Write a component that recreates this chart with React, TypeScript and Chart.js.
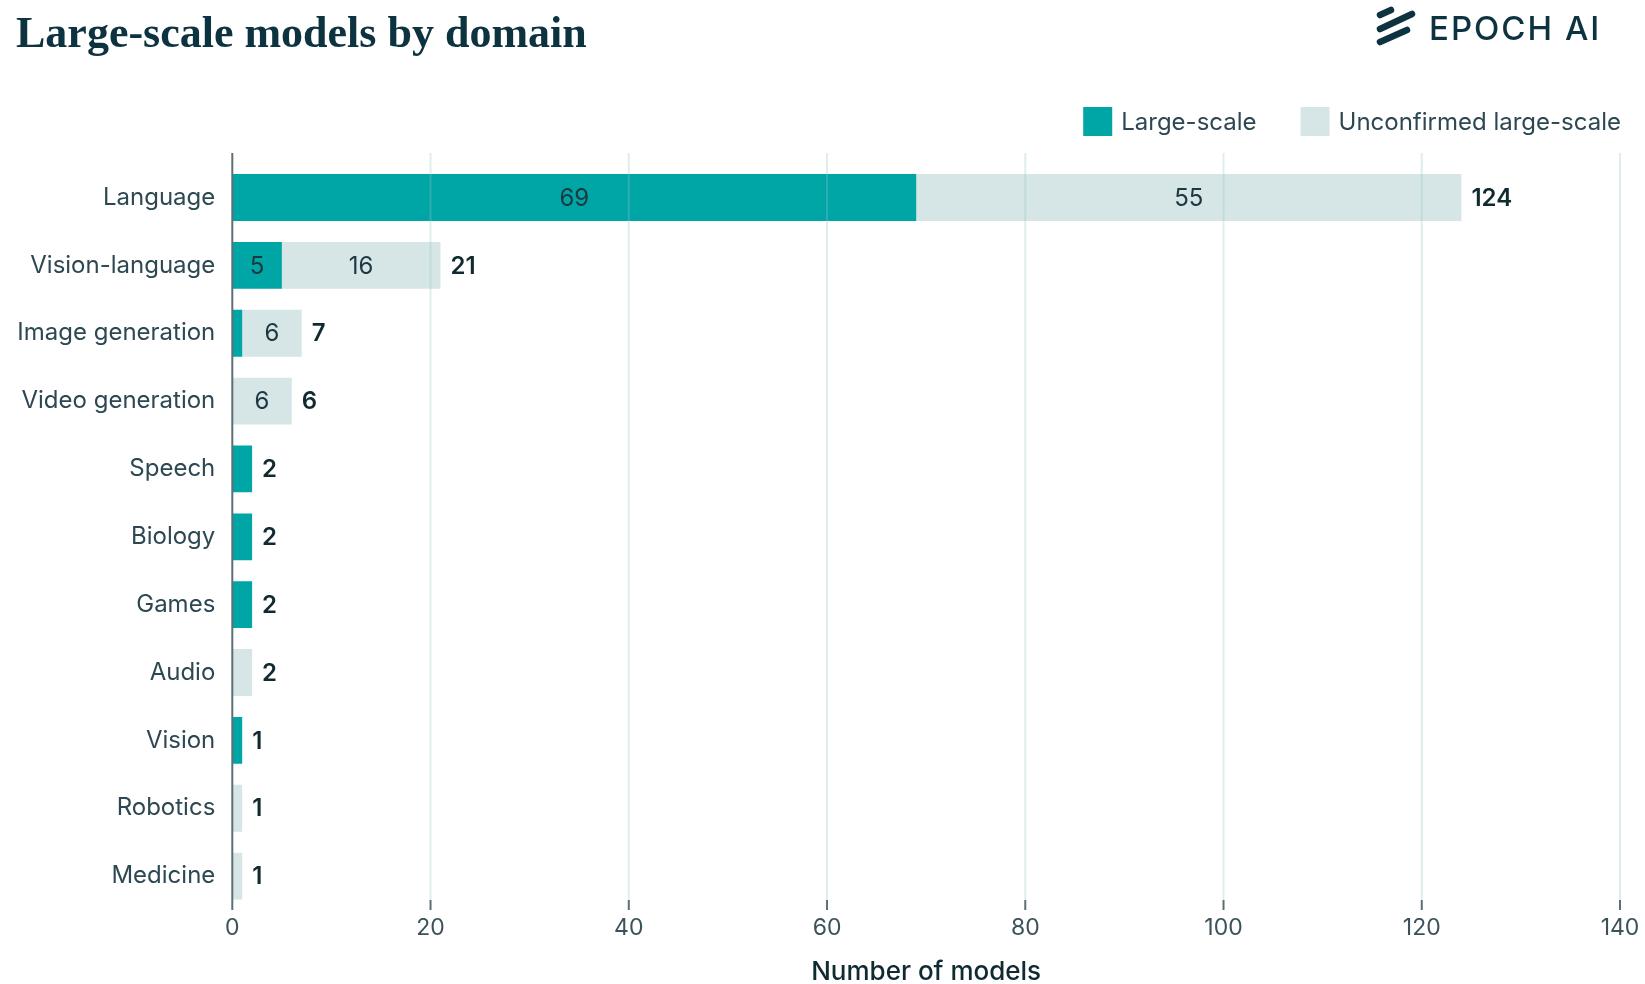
import React, { useEffect, useRef } from 'react';
import { Chart, registerables } from 'chart.js';

Chart.register(...registerables);

const categories = [
  'Language',
  'Vision-language',
  'Image generation',
  'Video generation',
  'Speech',
  'Biology',
  'Games',
  'Audio',
  'Vision',
  'Robotics',
  'Medicine',
];
const largeScale = [69, 5, 1, 0, 2, 2, 2, 0, 1, 0, 0];
const unconfirmed = [55, 16, 6, 6, 0, 0, 0, 2, 0, 1, 1];
const seriesNames = ['Large-scale', 'Unconfirmed large-scale'];
const xTickValues = [0, 20, 40, 60, 80, 100, 120, 140];

const TEAL = '#00a5a6';
const LIGHT = '#d6e5e5';
const DARK = '#0d3340';
const LABEL = '#2d4852';
const AXIS = '#5d6f75';
const FONT = 'Inter, "Noto Sans", sans-serif';

const gridAxisPlugin = {
  id: 'gridAxis',
  afterDatasetsDraw(chart: any) {
    const { ctx, chartArea, scales } = chart;
    const x = scales.x;
    const top = chartArea.top - 10.5;
    const bottom = chartArea.bottom;
    ctx.save();
    ctx.lineWidth = 2;
    for (const v of xTickValues) {
      if (v === 0) continue;
      const px = x.getPixelForValue(v);
      ctx.strokeStyle = 'rgba(150,196,198,0.3)';
      ctx.beginPath();
      ctx.moveTo(px, top);
      ctx.lineTo(px, bottom - 10);
      ctx.stroke();
      ctx.strokeStyle = AXIS;
      ctx.beginPath();
      ctx.moveTo(px, bottom - 10);
      ctx.lineTo(px, bottom);
      ctx.stroke();
    }
    ctx.strokeStyle = AXIS;
    ctx.beginPath();
    ctx.moveTo(chartArea.left, top);
    ctx.lineTo(chartArea.left, bottom);
    ctx.stroke();
    ctx.restore();
  },
};

const valueLabelPlugin = {
  id: 'valueLabels',
  afterDatasetsDraw(chart: any) {
    const { ctx, scales } = chart;
    ctx.save();
    ctx.textBaseline = 'middle';
    const metas = chart.data.datasets.map((_: any, i: number) => chart.getDatasetMeta(i));
    categories.forEach((_, i) => {
      let total = 0;
      let y = 0;
      metas.forEach((meta: any, d: number) => {
        const el = meta.data[i];
        const val = chart.data.datasets[d].data[i] as number;
        total += val;
        y = el.y;
        const w = Math.abs(el.x - el.base);
        if (val > 0 && w >= 40) {
          ctx.font = `400 24px ${FONT}`;
          ctx.fillStyle = '#1c3840';
          ctx.textAlign = 'center';
          ctx.fillText(String(val), (el.x + el.base) / 2, el.y + 1);
        }
      });
      ctx.font = `600 24px ${FONT}`;
      ctx.fillStyle = '#102a30';
      ctx.textAlign = 'left';
      ctx.fillText(String(total), scales.x.getPixelForValue(total) + 10, y + 1);
    });
    ctx.restore();
  },
};

const legendPlugin = {
  id: 'customLegend',
  afterDraw(chart: any) {
    const { ctx, chartArea } = chart;
    ctx.save();
    ctx.font = `400 24px ${FONT}`;
    ctx.textBaseline = 'middle';
    ctx.textAlign = 'left';
    const box = 29;
    const gap = 9;
    const itemGap = 44;
    const items = chart.data.datasets.map((ds: any) => ({
      label: ds.label,
      color: ds.backgroundColor,
      w: ctx.measureText(ds.label).width,
    }));
    let total = 0;
    items.forEach((it: any, i: number) => {
      total += box + gap + it.w + (i > 0 ? itemGap : 0);
    });
    let xPos = chartArea.right + 1 - total;
    const yTop = 107;
    items.forEach((it: any) => {
      ctx.fillStyle = it.color;
      ctx.fillRect(xPos, yTop, box, box);
      ctx.fillStyle = LABEL;
      ctx.fillText(it.label, xPos + box + gap, yTop + box / 2 + 1);
      xPos += box + gap + it.w + itemGap;
    });
    ctx.restore();
  },
};

function BarChart() {
  const ref = useRef<HTMLCanvasElement | null>(null);
  useEffect(() => {
    if (!ref.current) return;
    const chart = new Chart(ref.current, {
      type: 'bar',
      data: {
        labels: categories,
        datasets: [
          {
            label: seriesNames[0],
            data: largeScale,
            backgroundColor: TEAL,
            borderWidth: 0,
            barPercentage: 0.69,
            categoryPercentage: 1,
          },
          {
            label: seriesNames[1],
            data: unconfirmed,
            backgroundColor: LIGHT,
            borderWidth: 0,
            barPercentage: 0.69,
            categoryPercentage: 1,
          },
        ],
      },
      options: {
        indexAxis: 'y',
        responsive: false,
        animation: false,
        devicePixelRatio: 1,
        layout: { padding: { top: 163.6, right: 25, bottom: 0, left: 0 } },
        plugins: {
          legend: { display: false },
          tooltip: { enabled: false },
          title: { display: false },
        },
        scales: {
          x: {
            type: 'linear',
            stacked: true,
            min: 0,
            max: 140,
            grid: { display: false },
            border: { display: false },
            afterBuildTicks: (s: any) => {
              s.ticks = xTickValues.map((v) => ({ value: v }));
            },
            afterFit: (s: any) => {
              s.height = 74;
            },
            ticks: {
              padding: -4,
              color: '#3b525b',
              font: { family: FONT, size: 23 },
              maxRotation: 0,
            },
            title: {
              display: true,
              text: 'Number of models',
              color: '#0f2a30',
              font: { family: FONT, size: 26, weight: '500' },
              padding: { top: 0, bottom: -4 },
            },
          },
          y: {
            type: 'category',
            stacked: true,
            grid: { display: false },
            border: { display: false },
            afterFit: (s: any) => {
              s.width = 232.3;
            },
            ticks: {
              padding: 9,
              color: LABEL,
              font: { family: FONT, size: 24 },
            },
          },
        },
      },
      plugins: [gridAxisPlugin, valueLabelPlugin, legendPlugin],
    } as any);
    return () => chart.destroy();
  }, []);
  return <canvas ref={ref} width={1645} height={984} style={{ position: 'absolute', left: 0, top: 0, width: 1645, height: 984 }} />;
}

export default function App() {
  return (
    <div style={{ position: 'fixed', left: 0, top: 0, width: 1645, height: 984, background: '#ffffff', overflow: 'hidden' }}>
      <BarChart />
      <div
        style={{
          position: 'absolute',
          left: 16,
          top: 11,
          fontFamily: '"Liberation Serif", "DejaVu Serif", serif',
          fontWeight: 700,
          fontSize: 44,
          lineHeight: '44px',
          color: DARK,
          whiteSpace: 'nowrap',
        }}
      >
        Large-scale models by domain
      </div>
      <svg style={{ position: 'absolute', left: 1370, top: 0 }} width={50} height={50}>
        <g stroke={DARK} strokeWidth={6.5} strokeLinecap="round">
          <line x1={10} y1={15} x2={21} y2={10} />
          <line x1={10} y1={29} x2={42} y2={14} />
          <line x1={10} y1={42} x2={37} y2={30} />
        </g>
      </svg>
      <div
        style={{
          position: 'absolute',
          left: 1429,
          top: 11.5,
          fontFamily: FONT,
          fontWeight: 500,
          fontSize: 33,
          lineHeight: '33px',
          letterSpacing: 2,
          color: DARK,
          whiteSpace: 'nowrap',
        }}
      >
        EPOCH AI
      </div>
    </div>
  );
}
